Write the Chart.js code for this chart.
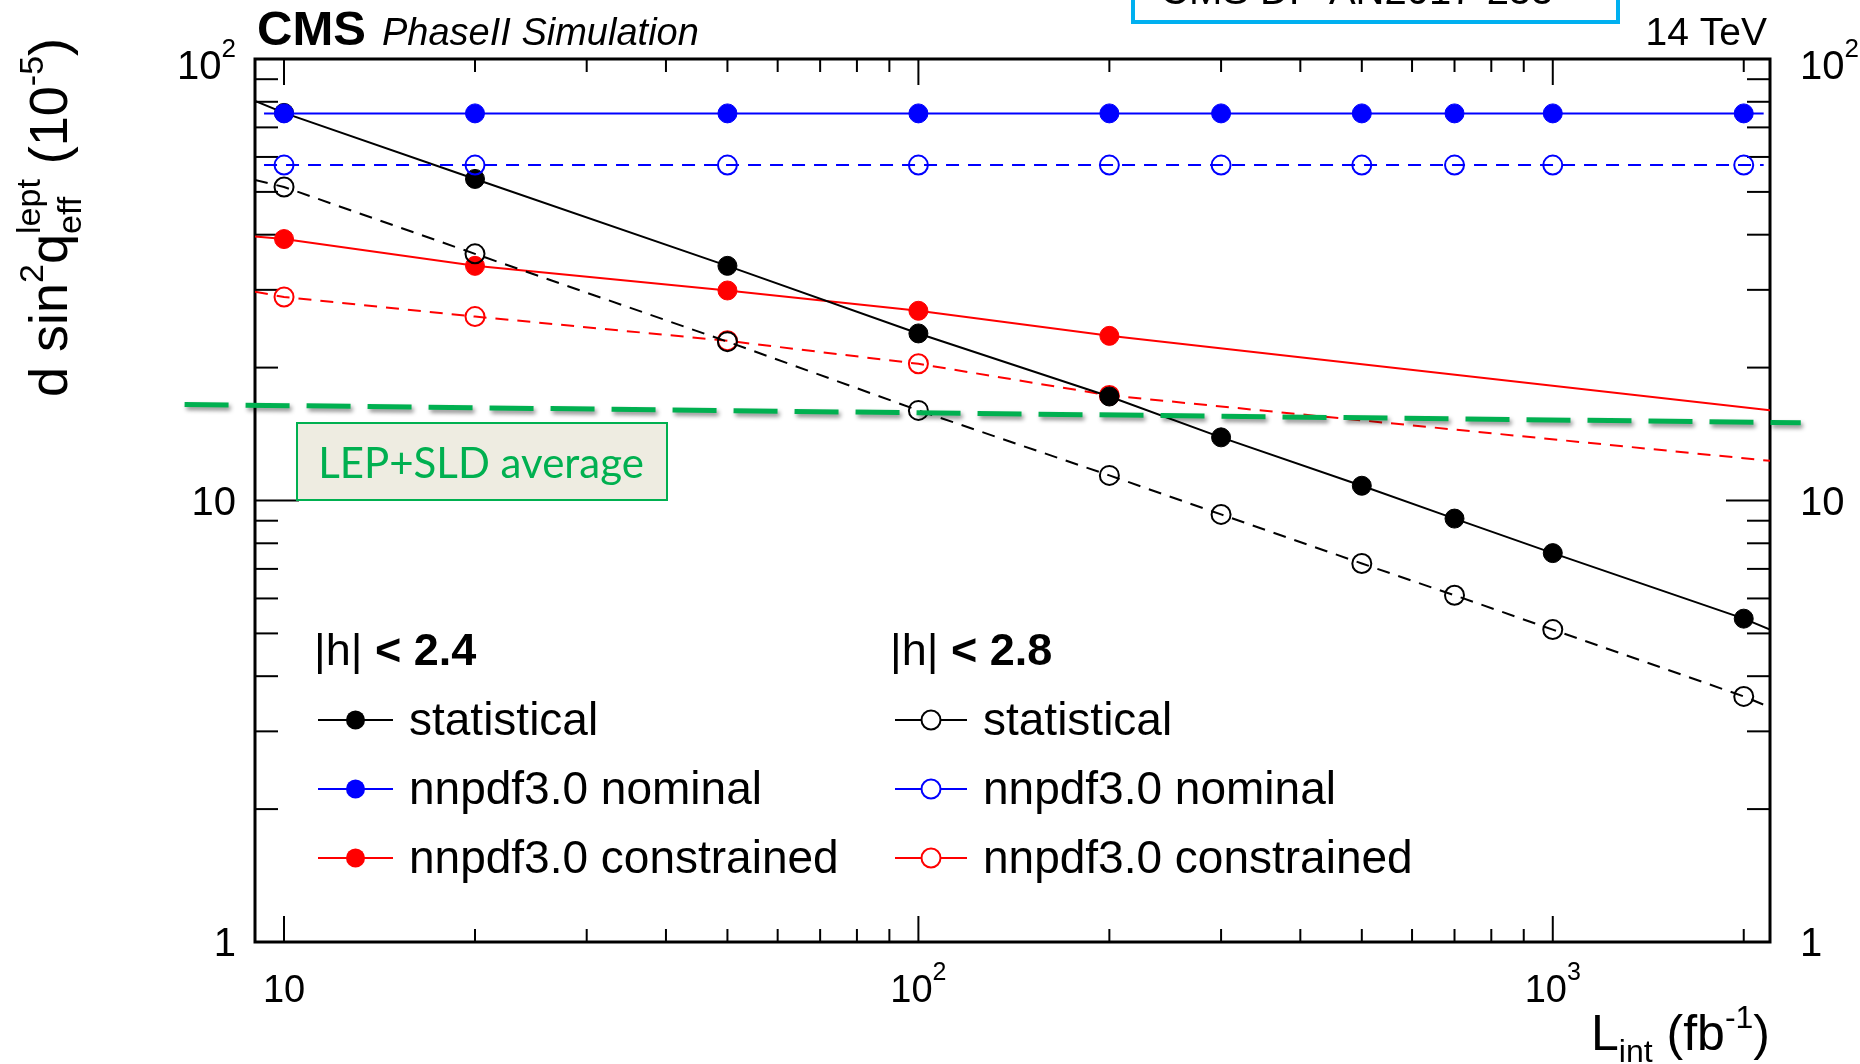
<!DOCTYPE html>
<html lang="en">
<head>
<meta charset="UTF-8" />
<title>sin2theta_eff precision vs luminosity</title>
<script src="https://cdn.jsdelivr.net/npm/chart.js"></script>
<style>
  html, body { margin: 0; padding: 0; background: #fff; }
  #wrap { width: 1860px; height: 1064px; }
</style>
</head>
<body>
<div id="wrap"><canvas id="mainChart" width="1860" height="1064"></canvas></div>

<script>
  // integrated luminosity (fb^-1)
  const lumi = [10, 20, 50, 100, 200, 300, 500, 700, 1000, 2000];
  const lumiConstrained = [10, 20, 50, 100, 200];

  // delta sin2theta_eff (10^-5): |eta| < 2.4 (filled) and |eta| < 2.8 (open)
  const stat24 = [75.5, 53.5, 34.0, 23.9, 17.2, 13.9, 10.8, 9.1, 7.6, 5.4];
  const stat28 = [51.3, 36.2, 22.9, 16.0, 11.4, 9.3, 7.2, 6.1, 5.1, 3.6];
  const nominal24 = [75.3, 75.3, 75.3, 75.3, 75.3, 75.3, 75.3, 75.3, 75.3, 75.3];
  const nominal28 = [57.5, 57.5, 57.5, 57.5, 57.5, 57.5, 57.5, 57.5, 57.5, 57.5];
  const constrained24 = [39.1, 34.0, 29.9, 26.9, 23.6];
  const constrained28 = [28.9, 26.1, 23.0, 20.4, 17.3];

  // where each drawn curve stops (lumi) and its value there
  const frameLumi = [9, 2200];
  const nominalLumi = [9.3, 2150];
  const stat24Edge = [80.4, 5.1];
  const stat28Edge = [53.2, 3.4];
  const constrained24Edge = [39.6, 16.0];
  const constrained28Edge = [29.7, 12.3];

  // LEP+SLD average line (hand drawn, slightly sloped)
  const lepLumi = [6.97, 2460];
  const lepAverage = [16.5, 15.0];

  // axis labels
  const xDecades = [10, 100, 1000];
  const xDecadeLabels = [["10", ""], ["10", "2"], ["10", "3"]];
  const yDecades = [1, 10, 100];
  const yDecadeLabels = [["1", ""], ["10", ""], ["10", "2"]];
  const legendLabels = ["statistical", "nnpdf3.0 nominal", "nnpdf3.0 constrained"];

  const SANS = '"Liberation Sans", Arial, sans-serif';

  function curve(xs, ys, edgeX, edgeY) {
    const pts = [{ x: edgeX[0], y: edgeY[0] }];
    xs.forEach((x, i) => pts.push({ x: x, y: ys[i] }));
    pts.push({ x: edgeX[1], y: edgeY[1] });
    return pts;
  }

  const innerOnly = c => (c.dataIndex === 0 || c.dataIndex === c.dataset.data.length - 1) ? 0 : 9.5;

  function series(label, data, color, open, dashed, order) {
    return {
      label: label,
      data: data,
      showLine: true,
      borderColor: color,
      borderWidth: 2,
      borderDash: dashed ? [13, 9] : [],
      pointRadius: innerOnly,
      pointBorderWidth: open ? 2 : 1,
      pointBorderColor: color,
      pointBackgroundColor: open ? "rgba(0,0,0,0)" : color,
      order: order
    };
  }

  // rich text: parts drawn one after another, "stack" parts share x with the previous one
  function drawRich(ctx, x, y, parts, align, sx) {
    sx = sx || 1;
    let widths = parts.map(p => {
      ctx.font = (p.italic ? "italic " : "") + (p.bold ? "bold " : "") + p.size + "px " + (p.family || SANS);
      return ctx.measureText(p.t).width;
    });
    let total = 0, prevStart = 0, prevW = 0;
    parts.forEach((p, i) => {
      if (p.stack) { total = prevStart + Math.max(prevW, widths[i]); }
      else { prevStart = total; prevW = widths[i]; total += widths[i]; }
    });
    let x0 = x;
    if (align === "right") x0 = x - total * sx;
    if (align === "center") x0 = x - total * sx / 2;
    ctx.save();
    ctx.translate(x0, y);
    ctx.scale(sx, 1);
    ctx.textBaseline = "alphabetic";
    ctx.textAlign = "left";
    let cur = 0; prevStart = 0; prevW = 0;
    parts.forEach((p, i) => {
      ctx.font = (p.italic ? "italic " : "") + (p.bold ? "bold " : "") + p.size + "px " + (p.family || SANS);
      ctx.fillStyle = p.color || "#000";
      let at;
      if (p.stack) { at = prevStart; cur = prevStart + Math.max(prevW, widths[i]); }
      else { at = cur; prevStart = cur; prevW = widths[i]; cur += widths[i]; }
      ctx.fillText(p.t, at, p.dy || 0);
    });
    ctx.restore();
  }

  function seg(ctx, x1, y1, x2, y2) {
    ctx.beginPath(); ctx.moveTo(x1, y1); ctx.lineTo(x2, y2); ctx.stroke();
  }

  const rootStyle = {
    id: "rootStyle",
    beforeDatasetsDraw(chart) {
      const { ctx, chartArea: a, scales: { x, y } } = chart;
      ctx.save();
      ctx.strokeStyle = "#000";
      ctx.lineWidth = 2;
      // y ticks, left and right
      for (let d = 1; d <= 10; d *= 10) {
        for (let k = 1; k <= 10; k++) {
          const v = d * k;
          if (v > 100 || (k === 10 && d !== 10)) continue;
          const py = y.getPixelForValue(v);
          const len = yDecades.includes(v) ? 44 : 23;
          seg(ctx, a.left, py, a.left + len, py);
          seg(ctx, a.right, py, a.right - len, py);
        }
      }
      // x ticks, bottom and top
      for (let d = 10; d <= 1000; d *= 10) {
        for (let k = 1; k <= 9; k++) {
          const v = d * k;
          if (v > 2200) continue;
          const px = x.getPixelForValue(v);
          const len = xDecades.includes(v) ? 26 : 13;
          seg(ctx, px, a.bottom, px, a.bottom - len);
          seg(ctx, px, a.top, px, a.top + len);
        }
      }
      ctx.lineWidth = 3;
      ctx.strokeRect(a.left, a.top, a.right - a.left, a.bottom - a.top);
      ctx.restore();
    },
    beforeDatasetDraw(chart, args) {
      if (chart.data.datasets[args.index].shadow) {
        const ctx = chart.ctx;
        ctx.save();
        ctx.shadowColor = "rgba(0,0,0,0.45)";
        ctx.shadowBlur = 4;
        ctx.shadowOffsetX = 2;
        ctx.shadowOffsetY = 3;
      }
    },
    afterDatasetDraw(chart, args) {
      if (chart.data.datasets[args.index].shadow) chart.ctx.restore();
    },
    afterDraw(chart) {
      const { ctx, chartArea: a, scales: { x, y } } = chart;

      // tick labels
      yDecades.forEach((v, i) => {
        const py = y.getPixelForValue(v);
        const lab = yDecadeLabels[i];
        const off = lab[1] ? 20 : 14;
        drawRich(ctx, a.left - 19, py + off, [{ t: lab[0], size: 40 }, { t: lab[1], size: 26, dy: -22 }], "right");
        drawRich(ctx, a.right + 30, py + off, [{ t: lab[0], size: 40 }, { t: lab[1], size: 26, dy: -22 }], "left");
      });
      xDecades.forEach((v, i) => {
        const px = x.getPixelForValue(v);
        const lab = xDecadeLabels[i];
        drawRich(ctx, px, a.bottom + 60, [{ t: lab[0], size: 38 }, { t: lab[1], size: 25, dy: -22 }], "center");
      });

      // axis titles
      drawRich(ctx, a.right, 1050, [
        { t: "L", size: 50 }, { t: "int", size: 32, dy: 12 },
        { t: " (fb", size: 50 }, { t: "-1", size: 32, dy: -22 }, { t: ")", size: 50 }
      ], "right");
      ctx.save();
      ctx.translate(67, 397);
      ctx.rotate(-Math.PI / 2);
      drawRich(ctx, 0, 0, [
        { t: "d sin", size: 54 }, { t: "2", size: 34, dy: -24 }, { t: "q", size: 54 },
        { t: "lept", size: 34, dy: -27 }, { t: "eff", size: 34, stack: true, dy: 14 },
        { t: " (10", size: 54 }, { t: "-5", size: 34, dy: -24 }, { t: ")", size: 54 }
      ], "left");
      ctx.restore();

      // header texts
      drawRich(ctx, 257, 45, [{ t: "CMS", size: 49, bold: true }], "left");
      drawRich(ctx, 382, 45, [{ t: "PhaseII Simulation", size: 38, italic: true }], "left");
      drawRich(ctx, 1767, 45, [{ t: "14 TeV", size: 39 }], "right");

      // reference box cut at the top edge
      ctx.save();
      ctx.strokeStyle = "#00b0f0";
      ctx.lineWidth = 4;
      ctx.strokeRect(1133, -30, 485, 52);
      ctx.restore();
      drawRich(ctx, 1160, 4, [{ t: "CMS DP-AN2017-255", size: 40 }], "left");

      // LEP+SLD label
      ctx.save();
      ctx.fillStyle = "#eeece1";
      ctx.fillRect(297, 423, 370, 77);
      ctx.strokeStyle = "#00b050";
      ctx.lineWidth = 2;
      ctx.strokeRect(297, 423, 370, 77);
      ctx.restore();
      drawRich(ctx, 481, 478, [{ t: "LEP+SLD average", size: 42, color: "#00b050", family: "Lato, sans-serif" }], "center");

      // two-column legend
      const rows = [720, 789, 858];
      const cols = [
        { head: "2.4", hx: 314, l0: 318, l1: 393, tx: 409, open: false },
        { head: "2.8", hx: 890, l0: 895, l1: 967, tx: 983, open: true }
      ];
      const colors = ["#000000", "#0000ff", "#ff0000"];
      cols.forEach(c => {
        drawRich(ctx, c.hx, 665, [{ t: "|h| ", size: 45 }, { t: "< " + c.head, size: 45, bold: true }], "left");
        rows.forEach((ry, i) => {
          ctx.save();
          ctx.strokeStyle = colors[i];
          ctx.lineWidth = 2;
          seg(ctx, c.l0, ry, c.l1, ry);
          ctx.beginPath();
          ctx.arc((c.l0 + c.l1) / 2, ry, 9.5, 0, 2 * Math.PI);
          if (c.open) { ctx.fillStyle = "#fff"; ctx.fill(); ctx.stroke(); }
          else { ctx.fillStyle = colors[i]; ctx.fill(); }
          ctx.restore();
          drawRich(ctx, c.tx, ry + 15, [{ t: legendLabels[i], size: 46 }], "left");
        });
      });
    }
  };

  const ctx = document.getElementById("mainChart").getContext("2d");
  new Chart(ctx, {
    type: "scatter",
    data: {
      datasets: [
        {
          label: "LEP+SLD average",
          data: curve([], [], lepLumi, lepAverage),
          showLine: true,
          borderColor: "#00b050",
          borderWidth: 5,
          borderDash: [44, 17],
          pointRadius: 0,
          clip: false,
          shadow: true,
          order: 0
        },
        series("nnpdf3.0 nominal |eta|<2.4", curve(lumi, nominal24, nominalLumi, nominal24), "#0000ff", false, false, 1),
        series("nnpdf3.0 nominal |eta|<2.8", curve(lumi, nominal28, nominalLumi, nominal28), "#0000ff", true, true, 2),
        series("statistical |eta|<2.4", curve(lumi, stat24, frameLumi, stat24Edge), "#000000", false, false, 3),
        series("statistical |eta|<2.8", curve(lumi, stat28, frameLumi, stat28Edge), "#000000", true, true, 4),
        series("nnpdf3.0 constrained |eta|<2.4", curve(lumiConstrained, constrained24, frameLumi, constrained24Edge), "#ff0000", false, false, 5),
        series("nnpdf3.0 constrained |eta|<2.8", curve(lumiConstrained, constrained28, frameLumi, constrained28Edge), "#ff0000", true, true, 6)
      ]
    },
    options: {
      responsive: false,
      animation: false,
      events: [],
      layout: { padding: { left: 255, right: 90, top: 59, bottom: 122 } },
      scales: {
        x: { type: "logarithmic", min: 9, max: 2200, display: false },
        y: { type: "logarithmic", min: 1, max: 100, display: false }
      },
      plugins: { legend: { display: false }, tooltip: { enabled: false } }
    },
    plugins: [rootStyle]
  });
</script>
</body>
</html>
